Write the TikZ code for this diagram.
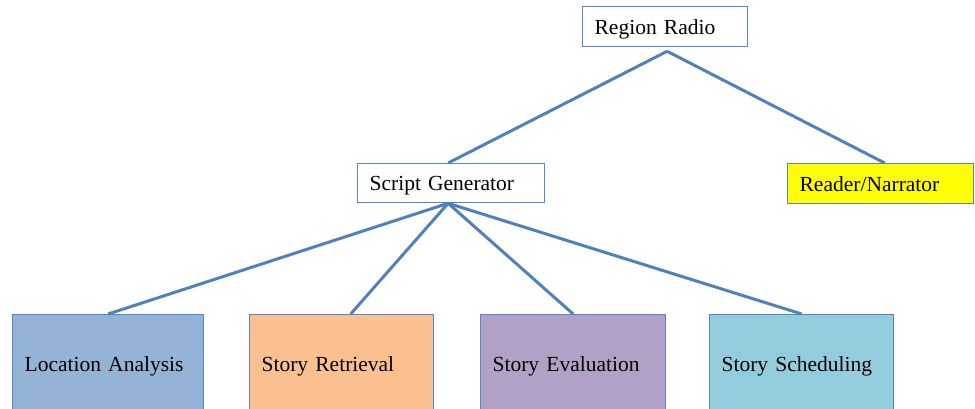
\documentclass[tikz,border=0pt]{standalone}
\usepackage{fontspec}
\setmainfont{Liberation Serif}
\definecolor{linkblue}{HTML}{4F81BD}
\definecolor{edgeblue}{HTML}{5585D0}
\definecolor{locfill}{HTML}{95B3D7}
\definecolor{retfill}{HTML}{FAC090}
\definecolor{evalfill}{HTML}{B2A1C7}
\definecolor{schedfill}{HTML}{93CDDD}
\definecolor{narrfill}{HTML}{FFFF00}
\tikzset{
  box/.style={draw=edgeblue, line width=1.3pt, anchor=north west,
    inner xsep=12pt, inner ysep=0pt, align=left, text depth=0pt,
    font=\fontsize{21.5}{24}\selectfont, text=black},
  link/.style={draw=linkblue, line width=3pt}
}
\begin{document}
\begin{tikzpicture}[x=1pt,y=-1pt]
  \useasboundingbox (0,0) rectangle (975,409);
  \clip (0,0) rectangle (975,409);
  % top level
  \node[box, fill=white, text width=141pt, minimum height=40pt] (radio) at (582,6) {Region Radio};
  % second level
  \node[box, fill=white, text width=163pt, minimum height=39pt] (gen) at (357,163) {Script Generator};
  \node[box, fill=narrfill, text width=162pt, minimum height=40pt] (narr) at (787,163) {Reader/Narrator};
  % third level
  \node[box, fill=locfill, text width=167pt, minimum height=98pt] (loc) at (12,314) {Location Analysis};
  \node[box, fill=retfill, text width=160pt, minimum height=98pt] (ret) at (249,314) {Story Retrieval};
  \node[box, fill=evalfill, text width=161pt, minimum height=98pt] (eval) at (480,314) {Story Evaluation};
  \node[box, fill=schedfill, text width=160pt, minimum height=98pt] (sched) at (709,314) {Story Scheduling};
  % connectors
  \draw[link] ([xshift=2pt,yshift=-4pt]radio.south) -- ([xshift=-3pt]gen.north);
  \draw[link] ([xshift=2pt,yshift=-4pt]radio.south) -- ([xshift=4pt]narr.north);
  \draw[link] ([xshift=-3pt]gen.south) -- (loc.north);
  \draw[link] ([xshift=-3pt]gen.south) -- ([xshift=9pt]ret.north);
  \draw[link] ([xshift=-3pt]gen.south) -- (eval.north);
  \draw[link] ([xshift=-3pt]gen.south) -- (sched.north);
\end{tikzpicture}
\end{document}
